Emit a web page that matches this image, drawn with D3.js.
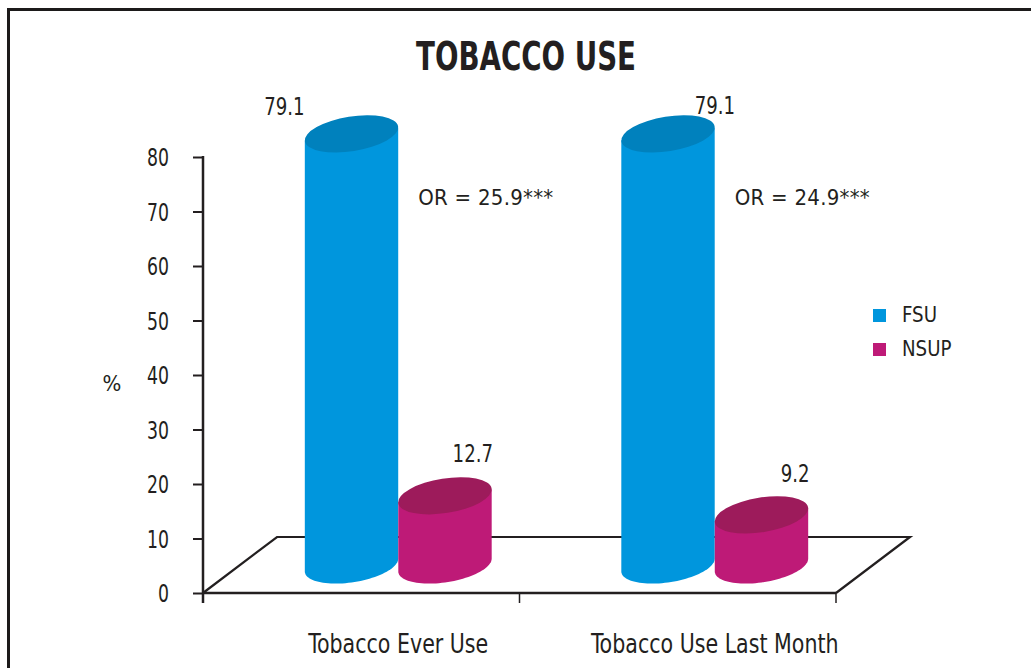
<!DOCTYPE html>
<html>
<head>
<meta charset="utf-8">
<script src="https://cdn.jsdelivr.net/npm/d3@7"></script>
<style>
  html, body { margin: 0; padding: 0; background: #fff; }
  svg { display: block; }
  text { font-family: "Liberation Sans Narrow", "Arial Narrow", "DejaVu Sans Condensed", sans-serif; fill: #231f20; }
</style>
</head>
<body>
<svg id="chart" width="1031" height="668"></svg>
<script>
// Survey results: share of respondents (%) reporting tobacco use
const categories = ["Tobacco Ever Use", "Tobacco Use Last Month"];
const seriesNames = ["FSU", "NSUP"];
const fsuValues = [79.1, 79.1];
const nsupValues = [12.7, 9.2];
const oddsRatios = ["OR = 25.9***", "OR = 24.9***"];
const yTicks = [0, 10, 20, 30, 40, 50, 60, 70, 80];
const titleText = "TOBACCO USE";
const yAxisTitle = "%";

const colors = {
  FSU:  { side: "#0096dd", top: "#0081bd" },
  NSUP: { side: "#be1a77", top: "#9d1b5b" }
};

const rows = categories.map((c, i) => ({
  category: c,
  values: [
    { series: "FSU", value: fsuValues[i] },
    { series: "NSUP", value: nsupValues[i] }
  ],
  or: oddsRatios[i]
}));

const svg = d3.select("#chart");
const W = 1031, H = 668;

// squeeze text horizontally to a condensed look
function condense(sel, factor) {
  sel.each(function () {
    const w = this.getComputedTextLength();
    d3.select(this).attr("textLength", w * factor).attr("lengthAdjust", "spacingAndGlyphs");
  });
}

// outer frame
svg.append("rect")
  .attr("x", 8.5).attr("y", 9.5)
  .attr("width", W + 20).attr("height", H + 20)
  .attr("fill", "none").attr("stroke", "#1c1a1a").attr("stroke-width", 3);

// title
svg.append("text")
  .attr("x", 526).attr("y", 70)
  .attr("text-anchor", "middle")
  .attr("font-size", 39).attr("font-weight", "bold")
  .attr("textLength", 220).attr("lengthAdjust", "spacingAndGlyphs")
  .text(titleText);

// scales (front plane of the floor), plus the depth offset of the 3D floor
const x0 = d3.scaleBand().domain(categories).range([203, 836]);
const x1 = d3.scaleBand().domain(seriesNames).range([0, x0.bandwidth()]).paddingInner(0).paddingOuter(0.693);
const y = d3.scaleLinear().domain([0, 80]).range([593, 157]);
const depth = { dx: 74, dy: -56 };
const mid = { dx: depth.dx / 2, dy: depth.dy / 2 };

// y axis
const yAxis = d3.axisLeft(y).tickValues(yTicks).tickSize(10).tickPadding(24).tickFormat(d3.format("d"));
const gy = svg.append("g").attr("transform", "translate(203,0)").call(yAxis);
gy.select(".domain").remove();
gy.selectAll(".tick line").attr("stroke", "#231f20").attr("stroke-width", 2);
gy.selectAll(".tick text").attr("font-size", 24).attr("dy", "0.36em").style("fill", "#231f20")
  .style("font-family", "'Liberation Sans Narrow','Arial Narrow','DejaVu Sans Condensed',sans-serif")
  .call(condense, 0.8);
svg.append("line")
  .attr("x1", 203).attr("x2", 203).attr("y1", y(80) - 1).attr("y2", y(0) + 10)
  .attr("stroke", "#231f20").attr("stroke-width", 2.5);

svg.append("text")
  .attr("x", 112).attr("y", 391)
  .attr("text-anchor", "middle").attr("font-size", 22)
  .text(yAxisTitle);

// floor
const [fx0, fx1] = x0.range();
const fy = y(0);
const floorPts = [
  [fx0, fy], [fx0 + depth.dx, fy + depth.dy], [fx1 + depth.dx, fy + depth.dy], [fx1, fy]
];
svg.append("path")
  .attr("d", d3.line()(floorPts))
  .attr("fill", "none").attr("stroke", "#231f20").attr("stroke-width", 2.2)
  .attr("stroke-linejoin", "miter");
svg.append("line")
  .attr("x1", fx0).attr("x2", fx1).attr("y1", fy).attr("y2", fy)
  .attr("stroke", "#231f20").attr("stroke-width", 2.5);

// category ticks along the front edge
const xTickPos = [fx0, ...categories.map(c => x0(c) + x0.bandwidth())];
svg.selectAll(".xtick").data(xTickPos).join("line")
  .attr("x1", d => d).attr("x2", d => d)
  .attr("y1", fy).attr("y2", fy + 10)
  .attr("stroke", "#231f20").attr("stroke-width", 1.5);

// cylinder bars with tilted elliptical cross-section
const hw = x1.bandwidth() / 2;
const ea = hw * 1.01, eb = hw * 0.37;
const phiDeg = -9;
const phi = phiDeg * Math.PI / 180;
const sP = Math.sin(phi), cP = Math.cos(phi);
const pt = (cx, cy, t) => [cx + ea * Math.cos(t) * cP - eb * Math.sin(t) * sP,
                           cy + ea * Math.cos(t) * sP + eb * Math.sin(t) * cP];
const tR = Math.atan2(-eb * sP, ea * cP);
const tL = tR + Math.PI;

function bodyPath(cx, cyTop, cyBot) {
  const pts = [pt(cx, cyTop, tL)];
  const N = 48;
  for (let k = 0; k <= N; k++) pts.push(pt(cx, cyBot, tL - k * Math.PI / N));
  pts.push(pt(cx, cyTop, tR));
  return d3.line()(pts) + "Z";
}

// value label anchors relative to each bar's centre/top (text-anchor end)
const labelNudge = [
  [{ dx: -47, dy: -19 }, { dx: 48, dy: -34 }],
  [{ dx: 67, dy: -20 }, { dx: 48, dy: -33 }]
];

rows.forEach((row, gi) => {
  const g = svg.append("g");
  row.values.forEach((d, si) => {
    const cx = x0(row.category) + x1(d.series) + hw + mid.dx;
    const cyBot = y(0) + mid.dy;
    const cyTop = y(d.value) + mid.dy;
    g.append("path")
      .attr("d", bodyPath(cx, cyTop, cyBot))
      .attr("fill", colors[d.series].side);
    g.append("ellipse")
      .attr("cx", cx).attr("cy", cyTop)
      .attr("rx", ea).attr("ry", eb)
      .attr("transform", `rotate(${phiDeg},${cx},${cyTop})`)
      .attr("fill", colors[d.series].top);
    const n = labelNudge[gi][si];
    svg.append("text")
      .attr("x", cx + n.dx).attr("y", cyTop + n.dy)
      .attr("text-anchor", "end").attr("font-size", 24)
      .text(d.value.toFixed(1))
      .call(condense, 0.84);
  });
  // odds ratio note beside the FSU bar
  const fsu = row.values[0];
  const fsuRight = x0(row.category) + x1("FSU") + 2 * hw + mid.dx;
  svg.append("text")
    .attr("x", fsuRight + 20).attr("y", y(fsu.value) + mid.dy + 71)
    .attr("font-size", 22)
    .attr("textLength", 135).attr("lengthAdjust", "spacing")
    .text(row.or);
});

// category labels, centred under the mid-depth bar pair
svg.selectAll(".cat").data(categories).join("text")
  .attr("x", c => x0(c) + x0.bandwidth() / 2 + mid.dx)
  .attr("y", 653)
  .attr("text-anchor", "middle").attr("font-size", 26)
  .text(c => c)
  .call(condense, 0.88);

// legend
const legend = svg.append("g").attr("transform", "translate(873,309)");
seriesNames.forEach((s, i) => {
  legend.append("rect")
    .attr("x", 0).attr("y", i * 34)
    .attr("width", 13).attr("height", 13)
    .attr("fill", colors[s].side);
  legend.append("text")
    .attr("x", 29).attr("y", i * 34 + 13)
    .attr("font-size", 22)
    .text(s)
    .call(condense, 0.92);
});
</script>
</body>
</html>
